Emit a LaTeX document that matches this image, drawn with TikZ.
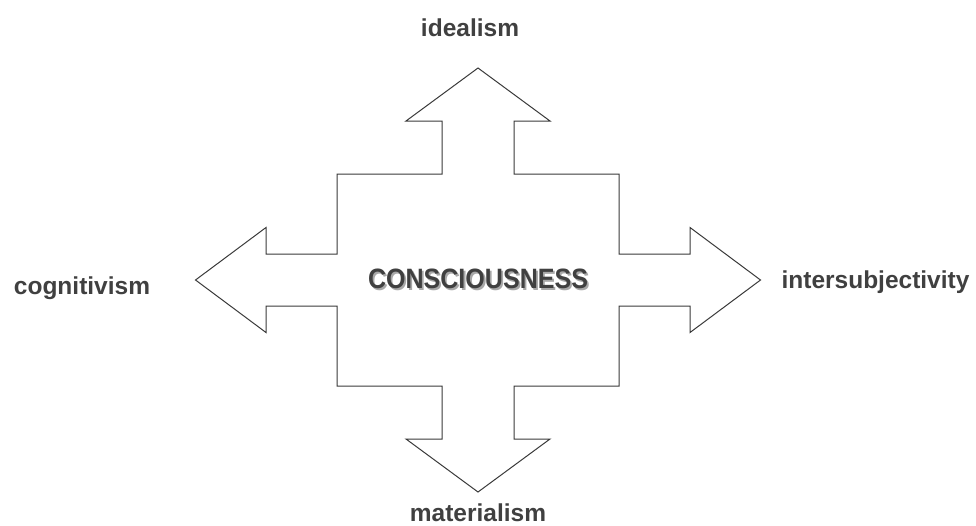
\documentclass[tikz,border=0pt]{standalone}
\usepackage{fontspec}
\setmainfont{Liberation Sans}
\definecolor{txt}{HTML}{404040}
\definecolor{shadowc}{HTML}{A8A8A8}
\definecolor{linec}{HTML}{3A3A3A}
\newcommand{\shadowtext}[1]{\makebox[0pt][l]{\hspace{2pt}\raisebox{-2pt}{\textcolor{shadowc}{#1}}}\textcolor{txt}{#1}}
\tikzset{
  lbl/.style={anchor=base, inner sep=0pt, text=txt, font=\bfseries\fontsize{24.5}{29}\selectfont},
  ctr/.style={anchor=base, inner sep=0pt, font=\bfseries\fontsize{28}{33}\selectfont},
  cross/.style={draw=linec, line width=1pt, line join=miter, fill=white}
}
\begin{document}
\begin{tikzpicture}[x=1pt,y=-1pt]
\useasboundingbox (0,0) rectangle (976,525);
\draw[cross] (478,68) -- (550,121) -- (514,121) -- (514,174) -- (619,174) -- (619,254)
  -- (690,254) -- (690,227.5) -- (760.5,280) -- (690,332.5) -- (690,306) -- (619,306)
  -- (619,386) -- (514,386) -- (514,439) -- (550,439) -- (478,492) -- (406,439)
  -- (442,439) -- (442,386) -- (337,386) -- (337,306) -- (266,306) -- (266,332.5)
  -- (195.5,280) -- (266,227.5) -- (266,254) -- (337,254) -- (337,174) -- (442,174)
  -- (442,121) -- (406,121) -- cycle;
\node[ctr] (center) at (478,288) {\scalebox{0.895}[1]{\shadowtext{CONSCIOUSNESS}}};
\node[lbl] (ideal) at (470,36) {idealism};
\node[lbl] (cogn) at (82,294.5) {cognitivism};
\node[lbl] (inter) at (875.5,288.3) {intersubjectivity};
\node[lbl] (mater) at (478,521.8) {materialism};
\end{tikzpicture}
\end{document}
